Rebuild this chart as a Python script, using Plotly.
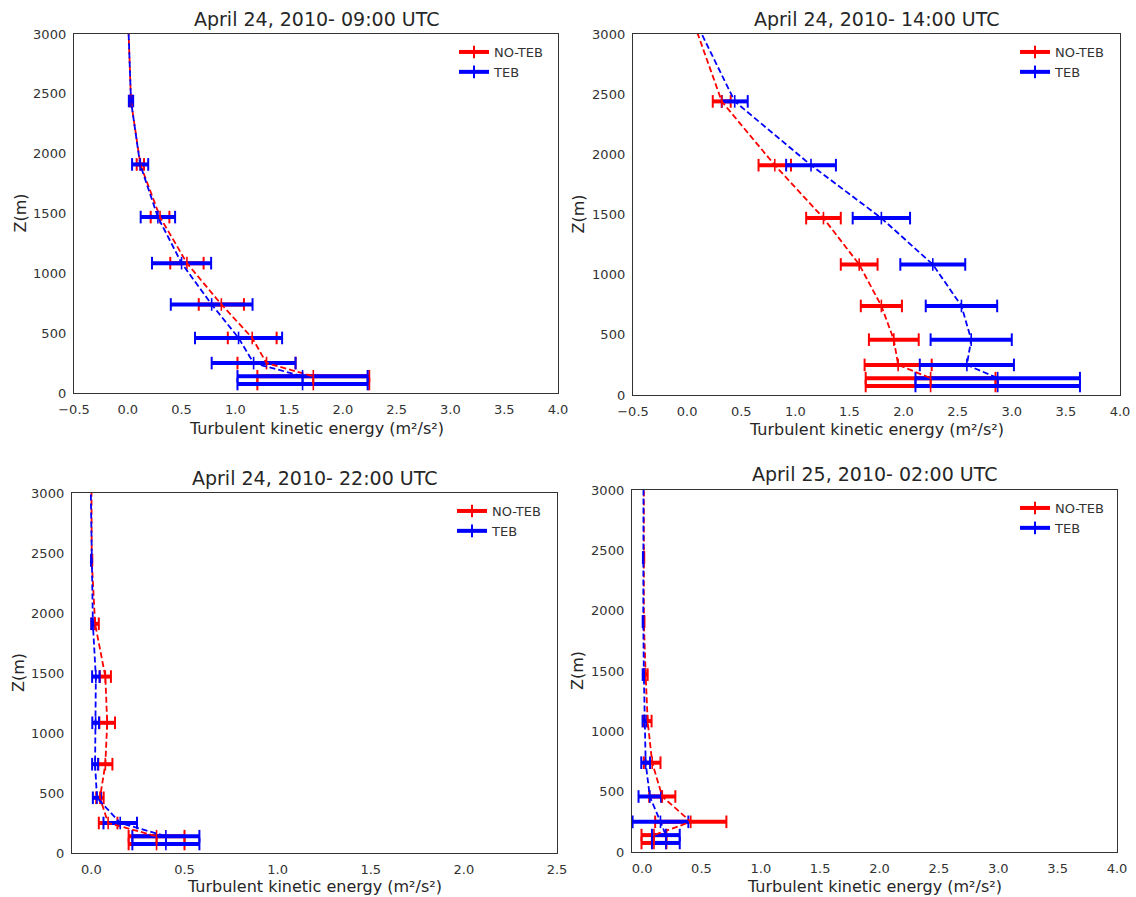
import numpy as np
import plotly.graph_objects as go

# ---------------- data ----------------
Z_LEVELS = [75, 140, 250, 460, 740, 1085, 1470, 1910, 2440, 3200]

# April 24, 2010 - 09:00 UTC
P1_NOTEB_MEAN = [1.725, 1.725, 1.29, 1.157, 0.87, 0.55, 0.30, 0.117, 0.03, 0.0]
P1_NOTEB_STD = [0.52, 0.52, 0.27, 0.227, 0.21, 0.155, 0.087, 0.034, 0.01, 0.0]
P1_TEB_MEAN = [1.625, 1.625, 1.17, 1.03, 0.78, 0.50, 0.28, 0.115, 0.03, 0.0]
P1_TEB_STD = [0.605, 0.605, 0.39, 0.405, 0.38, 0.275, 0.16, 0.075, 0.02, 0.0]

# April 24, 2010 - 14:00 UTC
P2_NOTEB_MEAN = [2.25, 2.25, 1.95, 1.91, 1.795, 1.59, 1.26, 0.81, 0.32, 0.02]
P2_NOTEB_STD = [0.6, 0.6, 0.31, 0.23, 0.19, 0.17, 0.16, 0.15, 0.083, 0.0]
P2_TEB_MEAN = [2.87, 2.87, 2.585, 2.625, 2.535, 2.27, 1.795, 1.145, 0.44, 0.026]
P2_TEB_STD = [0.76, 0.76, 0.435, 0.375, 0.33, 0.3, 0.265, 0.23, 0.12, 0.0]

# April 24, 2010 - 22:00 UTC
P3_NOTEB_MEAN = [0.35, 0.35, 0.09, 0.046, 0.075, 0.085, 0.075, 0.02, 0.002, 0.0]
P3_NOTEB_STD = [0.15, 0.15, 0.05, 0.02, 0.038, 0.042, 0.03, 0.02, 0.003, 0.0]
P3_TEB_MEAN = [0.40, 0.40, 0.155, 0.03, 0.02, 0.023, 0.024, 0.008, 0.0, -0.005]
P3_TEB_STD = [0.18, 0.18, 0.09, 0.022, 0.016, 0.018, 0.02, 0.008, 0.002, 0.0]

# April 25, 2010 - 02:00 UTC
P4_NOTEB_MEAN = [0.1, 0.1, 0.41, 0.17, 0.085, 0.047, 0.03, 0.015, 0.015, 0.015]
P4_NOTEB_STD = [0.105, 0.105, 0.30, 0.11, 0.07, 0.033, 0.017, 0.005, 0.003, 0.0]
P4_TEB_MEAN = [0.2, 0.2, 0.155, 0.065, 0.03, 0.022, 0.015, 0.01, 0.01, 0.012]
P4_TEB_STD = [0.117, 0.117, 0.235, 0.095, 0.037, 0.018, 0.01, 0.005, 0.003, 0.0]

TITLES = ["April 24, 2010- 09:00 UTC", "April 24, 2010- 14:00 UTC",
          "April 24, 2010- 22:00 UTC", "April 25, 2010- 02:00 UTC"]
SERIES_NAMES = ["NO-TEB", "TEB"]
X_LABEL = "Turbulent kinetic energy (m²/s²)"
Y_LABEL = "Z(m)"

PANELS = [
    (P1_NOTEB_MEAN, P1_NOTEB_STD, P1_TEB_MEAN, P1_TEB_STD),
    (P2_NOTEB_MEAN, P2_NOTEB_STD, P2_TEB_MEAN, P2_TEB_STD),
    (P3_NOTEB_MEAN, P3_NOTEB_STD, P3_TEB_MEAN, P3_TEB_STD),
    (P4_NOTEB_MEAN, P4_NOTEB_STD, P4_TEB_MEAN, P4_TEB_STD),
]

# ---------------- layout geometry (pixels) ----------------
W, H = 1136, 897
# (left, right, top, bottom) of each plot frame
FRAMES = [(74, 558, 34, 393), (633, 1120, 34, 395), (72, 557, 493, 853), (632, 1117, 490, 852)]
XRANGES = [[-0.5, 4.0], [-0.5, 4.0], [-0.104, 2.5], [-0.085, 4.0]]
XTICKS = [np.arange(-0.5, 4.01, 0.5), np.arange(-0.5, 4.01, 0.5),
          np.arange(0.0, 2.51, 0.5), np.arange(0.0, 4.01, 0.5)]
TITLE_Y = [19, 19, 478, 474]
XLABEL_Y = [428, 429, 886, 886]
YLABEL_X = [20, 578, 18, 577]
LEGEND_POS = [(454, 37), (1015, 37), (452, 496), (1015, 493)]

COLORS = ["#ff0000", "#0000ff"]
TEXT = "#262626"
TICKC = "#333333"


def px_x(v):
    return v / W


def px_y(v):
    return 1 - v / H


fig = go.Figure()

for i, (nm, ns, tm, ts) in enumerate(PANELS):
    k = "" if i == 0 else str(i + 1)
    xa, ya = "x" + k, "y" + k
    leg = "legend" + k
    series = [(np.array(nm), np.array(ns)), (np.array(tm), np.array(ts))]
    z = np.array(Z_LEVELS)

    # error bars (thick horizontal segments)
    for (mean, std), c in zip(series, COLORS):
        fig.add_trace(go.Scatter(
            x=mean, y=z, mode="markers",
            marker=dict(size=1, color="rgba(0,0,0,0)"),
            error_x=dict(type="data", array=std, visible=True, color=c,
                         thickness=4, width=0),
            showlegend=False, hoverinfo="skip", xaxis=xa, yaxis=ya))
        # caps at both ends
        fig.add_trace(go.Scatter(
            x=np.concatenate([mean - std, mean + std]),
            y=np.concatenate([z, z]), mode="markers",
            marker=dict(symbol="line-ns", size=9, color=c,
                        line=dict(width=2, color=c)),
            showlegend=False, hoverinfo="skip", xaxis=xa, yaxis=ya))

    # dashed profile lines with centre ticks
    for (mean, std), c in zip(series, COLORS):
        fig.add_trace(go.Scatter(
            x=mean, y=z, mode="lines+markers",
            line=dict(color=c, width=1.8, dash="6px,3px"),
            marker=dict(symbol="line-ns", size=9, color=c,
                        line=dict(width=1.6, color=c)),
            showlegend=False, hoverinfo="skip", xaxis=xa, yaxis=ya))

    # legend entries
    for name, c in zip(SERIES_NAMES, COLORS):
        fig.add_trace(go.Scatter(
            x=[None], y=[None], mode="lines+markers", name=name,
            line=dict(color=c, width=4),
            marker=dict(symbol="line-ns", size=9, color=c,
                        line=dict(width=2, color=c)),
            legend=leg, xaxis=xa, yaxis=ya))

    l, r, t, b = FRAMES[i]
    axis_common = dict(showline=True, mirror=True, linecolor="#333333",
                       linewidth=1.4, showgrid=False, zeroline=False, automargin=False,
                       ticks="", tickfont=dict(family="DejaVu Sans", size=13, color=TICKC),
                       ticklabelstandoff=4)
    fig.update_layout(**{
        "xaxis" + k: dict(domain=[px_x(l), px_x(r)], range=XRANGES[i], anchor=ya,
                          tickvals=XTICKS[i], tickformat=".1f", **axis_common),
        "yaxis" + k: dict(domain=[px_y(b), px_y(t)], range=[0, 3000], anchor=xa,
                          tickvals=list(range(0, 3001, 500)), **axis_common),
    })
    lx, ly = LEGEND_POS[i]
    fig.update_layout(**{
        leg: dict(x=px_x(lx), y=px_y(ly), xanchor="left", yanchor="top",
                  bgcolor="rgba(0,0,0,0)", borderwidth=0,
                  font=dict(family="DejaVu Sans", size=13, color=TICKC),
                  tracegroupgap=0, itemwidth=30)
    })

    cx = (l + r) / 2
    fig.add_annotation(text=TITLES[i], x=px_x(cx), y=px_y(TITLE_Y[i]), xref="paper", yref="paper",
                       xanchor="center", yanchor="middle", showarrow=False,
                       font=dict(family="DejaVu Sans", size=19, color=TEXT))
    fig.add_annotation(text=X_LABEL, x=px_x(cx), y=px_y(XLABEL_Y[i]), xref="paper", yref="paper",
                       xanchor="center", yanchor="middle", showarrow=False,
                       font=dict(family="DejaVu Sans", size=16, color=TEXT))
    fig.add_annotation(text=Y_LABEL, x=px_x(YLABEL_X[i]), y=px_y((t + b) / 2), xref="paper", yref="paper",
                       xanchor="center", yanchor="middle", showarrow=False, textangle=-90,
                       font=dict(family="DejaVu Sans", size=16, color=TEXT))

fig.update_layout(width=W, height=H, margin=dict(l=0, r=0, t=0, b=0, autoexpand=False),
                  paper_bgcolor="white", plot_bgcolor="white", template="none",
                  font=dict(family="DejaVu Sans", color=TEXT))

fig.write_html("out.html", config={"displayModeBar": False},
               post_script="document.body.style.margin='0';document.body.style.padding='0';")
